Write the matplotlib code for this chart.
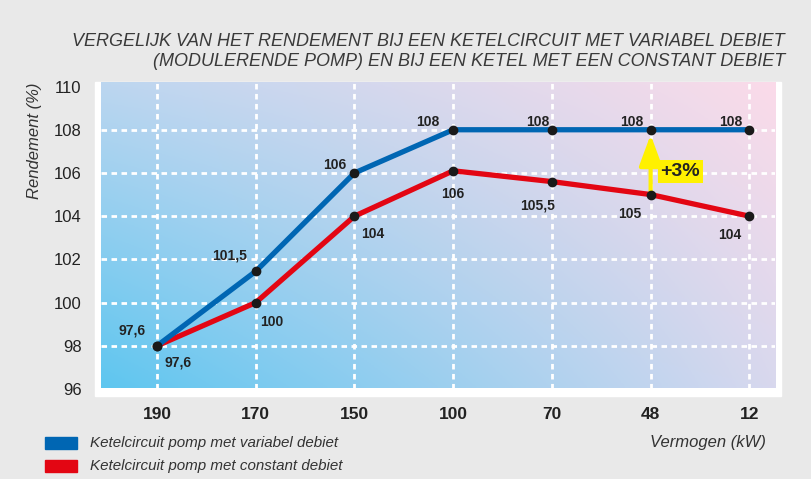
import numpy as np
import matplotlib.pyplot as plt
from matplotlib.patches import Rectangle

plt.rcParams['font.family'] = ['Liberation Sans', 'DejaVu Sans']

vermogen = ['190', '170', '150', '100', '70', '48', '12']
variabel = [98, 101.45, 106, 108, 108, 108, 108]
constant = [98, 100, 104, 106.1, 105.6, 105, 104]
variabel_labels = ['97,6', '101,5', '106', '108', '108', '108', '108']
constant_labels = ['97,6', '100', '104', '106', '105,5', '105', '104']
y_ticks = [96, 98, 100, 102, 104, 106, 108, 110]

W, H = 811, 479
blue = '#0066b3'
red = '#e30613'
yellow = '#fff100'

fig = plt.figure(figsize=(W / 100, H / 100), dpi=100, facecolor='#e9e9e9')

# white frame behind the plot area
fig.patches.append(Rectangle((95 / W, 1 - 396 / H), (781 - 95) / W, (396 - 82) / H,
                             transform=fig.transFigure, color='white', zorder=0))

ax = fig.add_axes([101 / W, 1 - 389 / H, (775 - 101) / W, (389 - 82) / H])
ax.set_zorder(2)
xlim = (-0.568, 6.26)
ylim = (96.06, 110.21)

# diagonal gradient background (blue bottom-left -> pink top-right)
tl = np.array([188, 214, 240]) / 255
tr = np.array([251, 219, 233]) / 255
bl = np.array([94, 198, 240]) / 255
br = np.array([216, 216, 238]) / 255
u = np.linspace(0, 1, 200)[None, :, None]
v = np.linspace(0, 1, 120)[:, None, None]
grad = (1 - v) * ((1 - u) * tl + u * tr) + v * ((1 - u) * bl + u * br)
ax.imshow(grad, extent=[xlim[0], xlim[1], ylim[0], ylim[1]], aspect='auto', zorder=0)

x = np.arange(len(vermogen))
for yv in y_ticks[1:-1]:
    ax.axhline(yv, color='white', lw=2, ls=(0, (2, 1.6)), zorder=1)
for xv in x:
    ax.axvline(xv, color='white', lw=2, ls=(0, (2, 1.6)), zorder=1)

ax.plot(x, constant, color=red, lw=3.8, zorder=2, solid_capstyle='round')
ax.plot(x, variabel, color=blue, lw=3.8, zorder=3, solid_capstyle='round')
ax.plot(x, constant, 'o', color='#1a1a1a', ms=6, zorder=4)
ax.plot(x, variabel, 'o', color='#1a1a1a', ms=6, zorder=4)

blue_off = [(-25, 15), (-26, 16), (-20, 8), (-25, 8), (-14, 8), (-19, 8), (-19, 8)]
red_off = [(21, -17), (16, -19), (18, -18), (0, -23), (-14, -24), (-21, -19), (-20, -19)]
for i in range(len(x)):
    ax.annotate(variabel_labels[i], (x[i], variabel[i]), xytext=blue_off[i],
                textcoords='offset pixels', ha='center', va='center',
                fontsize=10, fontweight='bold', color='#222222', zorder=5)
    ax.annotate(constant_labels[i], (x[i], constant[i]), xytext=red_off[i],
                textcoords='offset pixels', ha='center', va='center',
                fontsize=10, fontweight='bold', color='#222222', zorder=5)

# +3% arrow
ax.annotate('', xy=(5, variabel[5] - 0.1), xytext=(5, constant[5]),
            arrowprops=dict(arrowstyle='-|>,head_width=0.7,head_length=1.9',
                            color=yellow, lw=3), zorder=3)
ax.text(5.1, 106.05, '+3%', fontsize=14, fontweight='bold', color='#222222',
        va='center', ha='left', zorder=5,
        bbox=dict(boxstyle='square,pad=0.15', fc=yellow, ec='none'))

ax.set_xlim(xlim)
ax.set_ylim(ylim)
ax.set_xticks(x)
ax.set_xticklabels(vermogen, fontsize=12.5, fontweight='bold', color='#222222')
ax.set_yticks(y_ticks)
ax.set_yticklabels([str(t) for t in y_ticks], fontsize=12, color='#222222')
ax.tick_params(axis='x', length=0, pad=13)
ax.tick_params(axis='y', length=0, pad=14)
for s in ax.spines.values():
    s.set_visible(False)

title_font = dict(style='italic', fontsize=13, color='#3a3a3a', ha='right', va='center')
fig.text(785 / W, 1 - 42 / H,
         'VERGELIJK VAN HET RENDEMENT BIJ EEN KETELCIRCUIT MET VARIABEL DEBIET', **title_font)
fig.text(785 / W, 1 - 61 / H,
         '(MODULERENDE POMP) EN BIJ EEN KETEL MET EEN CONSTANT DEBIET', **title_font)

fig.text(35 / W, 1 - 141 / H, 'Rendement (%)', rotation=90, style='italic',
         fontsize=12, color='#333333', ha='center', va='center')
fig.text(766 / W, 1 - 443 / H, 'Vermogen (kW)', style='italic',
         fontsize=12, color='#333333', ha='right', va='center')

legend_items = [('Ketelcircuit pomp met variabel debiet', blue, 443),
                ('Ketelcircuit pomp met constant debiet', red, 466)]
for label, col, yp in legend_items:
    fig.patches.append(Rectangle((45 / W, 1 - (yp + 6) / H), 32 / W, 12 / H,
                                 transform=fig.transFigure, color=col))
    fig.text(90 / W, 1 - yp / H, label, style='italic', fontsize=10.9,
             color='#333333', ha='left', va='center')

fig.savefig('out.png', dpi=100, facecolor=fig.get_facecolor())
